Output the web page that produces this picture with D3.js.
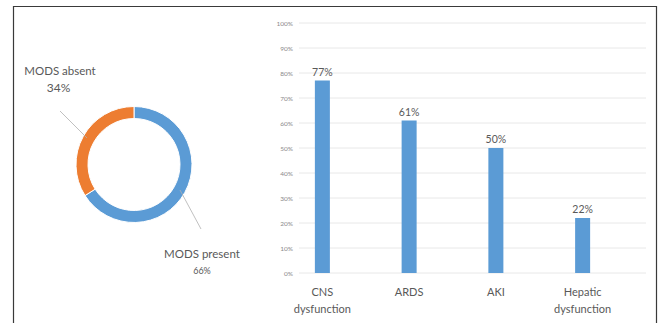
<!DOCTYPE html>
<html><head><meta charset="utf-8">
<script src="https://cdn.jsdelivr.net/npm/d3@7"></script>
<style>body{margin:0;background:#fff}svg{display:block;font-family:Lato,"Open Sans",sans-serif}</style>
</head><body><svg id="c" width="659" height="323"></svg>
<script>
const donutLabels = ["MODS present", "MODS absent"];
const donutValues = [66, 34];
const categories = [["CNS","dysfunction"], ["ARDS"], ["AKI"], ["Hepatic","dysfunction"]];
const barValues = [77, 61, 50, 22];
const yTicks = [0,10,20,30,40,50,60,70,80,90,100];

const svg = d3.select("#c");
const gray = "#595959";

// frame
svg.append("path").attr("d","M13.5,330V6.5H656.5V330").attr("fill","none").attr("stroke","#3a3a3a").attr("stroke-width",1.2);

// donut
const cx = 134, cy = 164.5;
const pie = d3.pie().sort(null)(donutValues);
const arc = d3.arc().innerRadius(46).outerRadius(58);
const colors = ["#5B9BD5", "#ED7D31"];
const dg = svg.append("g").attr("transform",`translate(${cx},${cy})`);
dg.selectAll("path").data(pie).join("path").attr("d",arc).attr("fill",(d,i)=>colors[i]).attr("stroke","#fff").attr("stroke-width",1);

// leader lines
svg.append("line").attr("x1",60).attr("y1",111).attr("x2",87).attr("y2",138).attr("stroke","#b0b0b0").attr("stroke-width",0.8);
svg.append("line").attr("x1",180).attr("y1",190).attr("x2",201).attr("y2",229).attr("stroke","#b0b0b0").attr("stroke-width",0.8);

svg.append("text").attr("x",60).attr("y",74.5).attr("text-anchor","middle").attr("font-size",11.5).attr("fill",gray).text(donutLabels[1]);
svg.append("text").attr("x",58.5).attr("y",91.5).attr("text-anchor","middle").attr("font-size",12).attr("fill",gray).text(donutValues[1]+"%");
svg.append("text").attr("x",202).attr("y",258).attr("text-anchor","middle").attr("font-size",11.5).attr("fill",gray).text(donutLabels[0]);
svg.append("text").attr("x",202).attr("y",273.5).attr("text-anchor","middle").attr("font-size",9).attr("fill",gray).text(donutValues[0]+"%");

// bar chart
const y = d3.scaleLinear().domain([0,100]).range([273,23]);
const x = d3.scaleBand().domain(d3.range(categories.length)).range([279,626]).paddingInner(0.827).paddingOuter(0.4135);
const gx0 = 299, gx1 = 646;

svg.append("g").selectAll("line").data(yTicks).join("line")
  .attr("x1",gx0).attr("x2",gx1).attr("y1",d=>y(d)).attr("y2",d=>y(d))
  .attr("stroke","#e8e8e8").attr("stroke-width",1);

const yAxis = d3.axisLeft(y).tickValues(yTicks).tickFormat(d=>d+"%").tickSize(0).tickPadding(0);
const ya = svg.append("g").attr("transform",`translate(293,0)`).call(yAxis);
ya.select(".domain").remove();
ya.selectAll("text").attr("font-size",6.5).attr("fill","#8a8a8a").attr("font-family","Lato,sans-serif");

svg.append("g").selectAll("rect").data(barValues).join("rect")
  .attr("x",(d,i)=>x(i)).attr("width",x.bandwidth())
  .attr("y",d=>y(d)).attr("height",d=>y(0)-y(d)).attr("fill","#5B9BD5");

svg.append("g").selectAll("text").data(barValues).join("text")
  .attr("x",(d,i)=>x(i)+x.bandwidth()/2).attr("y",d=>y(d)-5)
  .attr("text-anchor","middle").attr("font-size",10.5).attr("fill",gray).text(d=>d+"%");

const cl = svg.append("g").selectAll("text").data(categories).join("text")
  .attr("text-anchor","middle").attr("font-size",11).attr("fill",gray)
  .attr("transform",(d,i)=>`translate(${x(i)+x.bandwidth()/2},296)`);
cl.selectAll("tspan").data(d=>d).join("tspan").attr("x",0).attr("dy",(d,j)=>j?17:0).text(d=>d);
</script></body></html>
